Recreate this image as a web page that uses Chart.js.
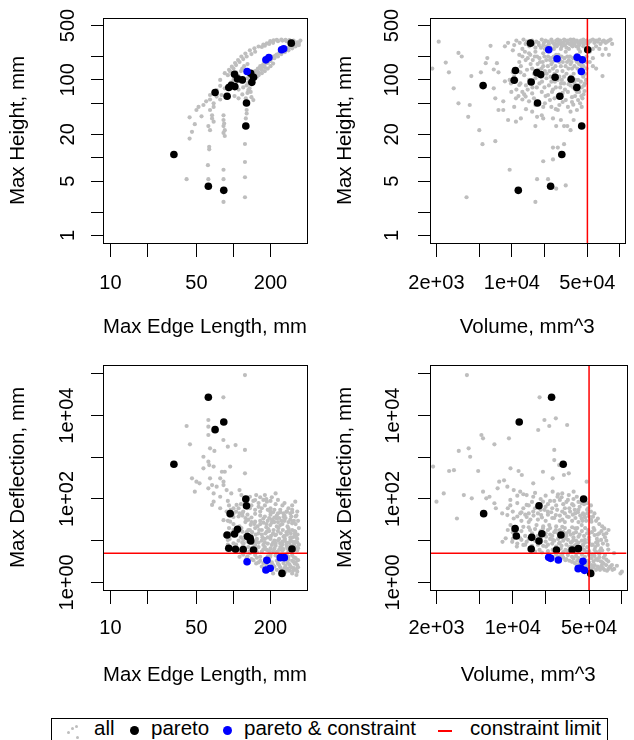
<!DOCTYPE html>
<html>
<head>
<meta charset="utf-8">
<title>Pareto designs</title>
<script src="https://cdn.jsdelivr.net/npm/chart.js@4.4.1/dist/chart.umd.min.js"></script>
<style>
  body { margin: 0; background: #fff; }
  #wrap { position: relative; width: 634px; height: 740px; overflow: hidden; font-family: "Liberation Sans", Arial, sans-serif; }
  canvas { position: absolute; }
  .leg { position: absolute; top: 718px; font-size: 20.5px; line-height: 20px; color: #000; white-space: nowrap; }
  .dot { position: absolute; border-radius: 50%; }
</style>
</head>
<body>
<div id="wrap">
  <canvas id="p1" width="317" height="340" style="left:0;top:0"></canvas>
  <canvas id="p2" width="317" height="340" style="left:317px;top:0"></canvas>
  <canvas id="p3" width="317" height="360" style="left:0;top:340px"></canvas>
  <canvas id="p4" width="317" height="360" style="left:317px;top:340px"></canvas>

  <div style="position:absolute;left:51px;top:718px;width:555px;height:40px;border:1px solid #000"></div>
  <div class="dot" style="left:67px;top:731px;width:3px;height:3px;background:#bebebe"></div>
  <div class="dot" style="left:71px;top:727px;width:3px;height:3px;background:#bebebe"></div>
  <div class="dot" style="left:75px;top:725px;width:3px;height:3px;background:#bebebe"></div>
  <div class="dot" style="left:76px;top:736px;width:3px;height:3px;background:#bebebe"></div>
  <span class="leg" style="left:94px">all</span>
  <div class="dot" style="left:130px;top:726px;width:9px;height:9px;background:#000"></div>
  <span class="leg" style="left:151px">pareto</span>
  <div class="dot" style="left:223px;top:726px;width:9px;height:9px;background:#0000ff"></div>
  <span class="leg" style="left:244px">pareto &amp; constraint</span>
  <div style="position:absolute;left:438px;top:730px;width:14px;height:2px;background:#ff0000"></div>
  <span class="leg" style="left:470px">constraint limit</span>
</div>

<script>
// axis ticks and their printed labels
const edgeTicks = [10, 20, 50, 100, 200];
const edgeTickLabels = ['10', '', '50', '', '200'];
const volumeTicks = [2e3, 5e3, 1e4, 2e4, 5e4, 1e5];
const volumeTickLabels = ['2e+03', '', '1e+04', '', '5e+04', ''];
const heightTicks = [1, 2, 5, 10, 20, 50, 100, 200, 500];
const heightTickLabels = ['1', '', '5', '', '20', '', '100', '', '500'];
const deflectionTicks = [1, 10, 100, 1e3, 1e4, 1e5];
const deflectionTickLabels = ['1e+00', '', '1e+02', '', '1e+04', ''];

// constraint limits
const volumeLimit = 5e4;
const deflectionLimit = 5;

// pareto designs (black) and pareto designs meeting the constraints (blue)
const edgeHeightPareto = [[32.8,11.0],[62.5,4.3],[83.4,3.8],[70.9,69],[88.8,61.5],[91.6,80],[96,85],[102.6,82],[102,118],[107.8,103],[118,100],[127.6,50.5],[126,25.5],[138,122],[145.6,108],[141,93],[295,297]];
const edgeHeightBoth = [[129,128],[183.5,181],[194,194],[246,244],[256,251]];
const volumeHeightPareto = [[14860,297],[50350,244],[10780,132],[10500,99],[5410,84.5],[15080,94],[17020,124],[18480,117],[25120,108],[35320,102],[39900,80],[27800,61.5],[17260,50.5],[44260,25.5],[28980,11.0],[22820,4.3],[11460,3.8]];
const volumeHeightBoth = [[21920,244],[26160,187],[40200,195],[44870,181],[43940,128]];
const edgeDeflPareto = [[62.5,27500],[83.4,7050],[70.9,4610],[32.8,680],[126,100],[127.6,69],[94,44.5],[88.8,13.7],[102,14.5],[107.8,18.7],[130,12.5],[136.8,11.4],[138,9.8],[91.6,6.55],[103.8,6.2],[120,6.1],[145.6,5.97],[299,6.3],[248,1.64]];
const edgeDeflBoth = [[129,3.13],[187,3.37],[183.5,1.98],[199,2.17],[240,3.91],[259,3.91]];
const volumeDeflPareto = [[22680,27500],[11460,7050],[28980,680],[44560,100],[17380,69],[5410,44.5],[10500,19.4],[10780,12.9],[14920,12.0],[18480,14.7],[17380,9.8],[27630,13.7],[14760,6.3],[25120,5.97],[35000,5.97],[39900,6.43],[51760,1.64]];
const volumeDeflBoth = [[21330,3.98],[22240,3.76],[26160,3.44],[43940,3.19],[39720,2.13],[41900,2.21],[45400,1.94]];

// all evaluated designs (grey)
const edgeHeightAll = [
  [78,100],[85,122],[92,135],[97,148],[103,165],[109,180],[116,200],[125,218],[136,240],[148,255],[160,269],[175,285],[187,295],[199,315],[212,322],[225,328],[245,330],[265,328],[285,325],[308,320],[330,305],
  [140,120],[150,130],[158,140],[165,150],[175,160],[185,172],[200,185],[212,200],[225,212],[240,225],[255,235],[270,250],[290,265],[310,280],[330,300],
  [120,95],[130,105],[135,112],[150,118],[160,125],[170,135],[180,145],
  [128,85],[132,92],[135,78],[140,88],[138,70],[142,100],[145,115],
  [57,47.6],[60,53],[64.5,56],[69,50],[73,61],[78,56],[80,64],[50,41],[55,34],[44,33],[46,21.5],[48.5,27],[64.5,41],[67,35],[67,32],[69,29],[62.5,25.5],[64.5,22.6],[83,30.5],[84,27.5],[85,22.6],[83,20.8],[44,17.6],[63.5,13.8],[63.5,12.8],[62,8],[41.6,5.3],[62.5,5.3],[83,7],[83,5.3],[83,2.7],[124,3.1],[124,5.6],[124,8.8],[124,15],[126,32],[128,41],[130,68],[132,74],
  [78,84],[85,78],[73,74],[64.5,64],[52,45],[69,45],[83,35],[83,25.5],[85,19],[126,58],[125,51],[128,37],[100,100],[110,112],[95,92],[115,130],[122,150],[130,160],[118,140],[105,125],
  [170,150],[180,160],[190,175],[205,190],[220,205],[235,220],[250,230],[265,245],[280,258],[300,275],[320,290],[340,300],[350,320],[340,280],[320,270],[300,255],[280,240],[262,228],[245,215],[230,200],[215,190],[200,175],[190,165],[178,155],[165,140],[155,132],[145,125],[155,110],[148,105],[160,115],[170,122],[180,130],[190,140],[200,150],[210,162],[170,265],[180,275],[195,290],[210,300],[230,315],[250,320],[270,315],[150,230],[140,215],[128,200],[120,185],[112,170],[105,155],[100,140],[94,128],[90,115],[110,75],[100,80],[118,65],[120,80],[140,60],[145,55],[110,58],[102,62]
];
const volumeHeightAll = [
  [2100,310],[1830,140],[2440,167],[2610,125],[3200,222],[3430,200],[4210,112],[2890,78],[3200,50],[4070,47.6],[3940,33.5],[4990,22.6],[5340,14.9],[7020,16.3],[3800,3.1],[9530,7.0],
  [6340,274],[5920,191],[5720,164],[5160,125],[6790,136],[7510,125],[7260,164],[6790,78],[7020,58],[8320,53],[7510,41],[8320,41],[9220,30.5],[10900,29],[12100,32],[15400,39],[16500,25.5],[18900,35],[17100,33.5],[19500,32],[24000,32],[25700,25.5],[26600,41],[28400,30.5],[30400,25.5],[34900,39],[37300,30.5],[40000,41],[44300,45],[42800,50],[34900,22.6],[32600,25.5],[24000,13.5],[26600,13.5],[30400,14.9],[19500,9.0],[24000,9.5],[17100,5.3],[21600,5.3],[25700,4.0],[31500,4.4],[16500,2.7],
  [8610,96],[9530,100],[10200,125],[11700,86],[12500,70],[13400,61],[15400,67],[18900,70],[21600,64],[24800,58],[9880,70],[10900,58],[12500,56],[14400,53],[16500,47.6],[20200,50],[23200,45],[27500,47.6],[31500,55],[36000,60],[40000,70],[44300,80],
  [9220,300],[8610,270],[10200,240],[11700,210],[12500,250],[13400,290],[14400,220],[15400,320],[16500,260],[17600,300],[18900,330],[19500,280],[20200,250],[21600,310],[23200,330],[24000,300],[24800,280],[25700,320],[26600,330],[27500,310],[28400,290],[30400,330],[31500,320],[32600,300],[34900,330],[36000,310],[37300,330],[40000,320],[42800,300],[45800,330],[49100,320],[52600,310],[56200,330],[60200,320],[64400,330],[69000,310],[73900,300],[79100,320],[84700,290],[60200,270],[56200,250],[52600,230],[64400,250],[73900,250],[69000,210],
  [13400,180],[14900,160],[15400,140],[17100,200],[18200,170],[19500,150],[20200,130],[21600,200],[22500,180],[23200,160],[24000,140],[24800,120],[25700,210],[26600,190],[27500,170],[28400,150],[29400,130],[30400,110],[31500,230],[32600,200],[33700,180],[34900,160],[36000,140],[37300,120],[38600,100],[40000,210],[41400,250],[42800,230],[44300,150],[45800,110],[47400,90],[49100,140],[12100,150],[11300,130],[10500,110],[13000,115],[14400,100],[16500,105],[18200,115],[20900,105],[23200,95],[26600,100],[30400,90],[34900,85],[38600,75],[33700,250],[35500,280],[28400,250],[22500,240],[19500,220],[16500,230],[11700,170],[52600,170],[56200,150],[49100,200],[45800,270],[44300,190],[40000,170],[42800,130],[69000,112],[60200,140],[79100,210],[56200,190],
  [10500,280],[11000,320],[11800,300],[12800,330],[13800,310],[14500,270],[15800,290],[16800,310],[17800,280],[18600,260],[19800,300],[20500,320],[21000,270],[22000,290],[22800,260],[23600,310],[24500,250],[25200,290],[26000,270],[27000,290],[28000,320],[29000,270],[29800,300],[31000,280],[32000,260],[33000,320],[34200,290],[35200,300],[36500,270],[37800,290],[39000,310],[39500,270],[41000,300],[42000,280],[43500,320],[44800,300],[46500,290],[48000,310],[50500,290],[53500,320],[58000,300],[62000,310],[66000,290],[71000,320],[76000,310],[82000,330],
  [12500,200],[13200,230],[14000,190],[14800,210],[15600,180],[16300,200],[17300,160],[18000,190],[18800,140],[19300,170],[20000,200],[20800,180],[21500,150],[22300,130],[23000,190],[23800,170],[24400,200],[25300,150],[26200,130],[27000,210],[27800,180],[28800,200],[29600,170],[30600,190],[31400,150],[32400,170],[33400,140],[34500,200],[35600,170],[36800,190],[37900,150],[39200,180],[40500,140],[41800,160],[43000,180],[44500,120],[46000,150],[47500,120],[48800,170],[16000,120],[17500,135],[19000,110],[21000,120],[22800,110],[25000,95],[27500,110],[29000,100],[32000,120],[35000,110],[38000,90],[41000,100],[43500,95],[46500,85],[13800,135],[12000,125],[11000,100],[9800,90],[13500,85],[15500,80],[18000,90],[20000,80],[24000,75],[28000,80],[33000,70],[37000,80],[42000,70],[46000,65],
  [11000,75],[12000,90],[13000,65],[14000,75],[15000,95],[16000,58],[17000,80],[19000,95],[20500,62],[22000,85],[23500,70],[25500,80],[26500,62],[28500,90],[29500,68],[31000,75],[33500,88],[36000,52],[38500,62],[41500,85],[44000,62],[47000,72],[48500,100],[19500,45],[22500,55],[25500,42],[29500,52],[33000,45],[37000,48],[41000,55],[45000,58],[10500,45],[13500,42],[11500,62]
];
const edgeDeflAll = [
  [124,94000],[82.8,27500],[62.5,7850],[62.5,5430],[62.5,3430],[41.6,5640],[44.3,2050],[82.8,2600],[90,1800],[104,1970],[124,1500],[70,1420],[64.5,1640],[57,1030],[62.5,785],[63.5,650],[57,545],[69,600],[46,313],[50,260],[53,237],[48.5,150],[80.5,450],[85,450],[94,600],[124,412],[78,313],[83,260],[64.5,313],[67,216],[73,197],[83,216],[88,164],[62.5,180],[69,136],[78,113],[96,136],[112,164],[116,124],[136,113],[153,124],[180,124],[220,136],[150,94],[187,86],[67,72],[69,86],[78,60],[88,50],[106,72],[124,86],[318,86],[272,50],[199,50],[165,50],[136,60],[118,45],[225,34],[255,37],[305,28.5],[100,37],[94,28.5],[83,31],[128,31],[150,28.5],[175,34],[199,23.7],[240,23.7],[280,19.7],[318,16.4],[106,19.7],[118,16.4],[136,18],[160,15],[187,16.4],[218,13.6],[255,12.4],[290,10.4],[318,9.4],[85,13.6],[90,10.4],[100,8.6],[121,8.6],[153,9.4],[175,7.9],[205,7.9],[240,8.6],[272,7.2],[318,6.0],[153,6.5],[187,6.0],[225,5.4],
  [100,45],[110,38],[120,50],[130,42],[140,36],[150,44],[165,40],[180,38],[200,42],[215,36],[100,25],[112,22],[125,28],[138,24],[150,20],[165,25],[185,21],[205,27],[225,22],[250,25],[275,22],[300,26],[102,14],[115,12],[128,16],[140,13],[155,11],[170,14],[190,12],[210,15],[235,11],[260,13],[290,12],[315,14],[105,8],[118,9],[132,7],[145,8.5],[160,7],[180,9],[200,6.5],[220,7.5],[245,6.8],[270,8],[300,6.3],[110,6.2],[125,5.6],[90,90],[92,70],[95,55],[93,40],[90,30],[92,20],[95,15],[93,11],[90,8],
  [170,60],[190,55],[210,48],[230,45],[260,40],[290,45],[320,38],[240,55],[280,60],[300,55],[330,50],[140,70],[160,80],[175,95],[200,90],[220,75],[250,70],[110,60],[115,75],[190,30],[210,30],[230,28],[260,30],[290,32],[320,25],[340,20],[170,18],[195,17],[230,17],[270,16],[300,18],[120,10.5],[150,10],[180,11],[215,10],[250,9.5],[285,9],[330,11],[340,8],[210,5.6],[250,5.8],[280,5.5],[330,5.8],[170,5.5],[105,5.5],[140,6.5],
  [112,4.1],[128,3.8],[145,3.4],[153,2.85],[170,2.4],[187,3.1],[210,2.6],[225,2.0],[265,1.8],[290,2.4],[308,3.1],[330,2.6],[330,1.8],[300,1.64],[280,4.1],[199,4.1],[165,4.1],[136,5.0],[210,1.64],[255,1.5],[128,2.85],[240,2.3],[275,3.0],[320,3.8],[300,4.5],[250,4.3],[180,3.6],[160,3.0],[200,2.0],[230,2.8],[260,2.2],[285,1.9],[310,2.2],[325,1.5],[150,4.5],[120,4.6],
  [100,60],[105,50],[112,45],[118,40],[125,35],[132,32],[140,28],[148,25],[157,22],[165,30],[175,27],[185,25],[195,35],[205,32],[215,28],[225,40],[235,35],[245,30],[255,45],[265,35],[280,28],[295,38],[310,30],[325,40],[335,30],
  [100,18],[108,16],[116,20],[124,13],[132,18],[142,16],[152,14],[162,18],[172,12],[182,15],[192,19],[202,13],[212,18],[222,14],[232,20],[242,15],[252,18],[262,11],[272,14],[282,17],[292,15],[302,12],[312,17],[322,12],[332,14],
  [110,10],[120,7.5],[130,9.5],[140,10.5],[150,8],[160,9],[170,10],[180,7],[190,8.5],[200,11],[210,9],[220,8.5],[230,10],[240,7],[250,8],[260,10],[270,9],[280,7],[290,7.5],[300,9.5],[310,8],[320,7],[330,9],
  [115,5.2],[135,5.5],[155,5.3],[175,6.2],[195,5.6],[215,6.5],[235,6],[255,6.3],[275,6.5],[295,5.8],[315,6.3],[335,6.6],
  [130,4.2],[140,3.6],[155,3.9],[165,3.3],[175,2.9],[185,2.6],[195,3.5],[205,3.0],[215,2.4],[225,3.3],[235,2.6],[245,2.0],[255,2.9],[265,2.5],[275,2.1],[285,2.7],[295,2.3],[305,1.9],[315,2.8],[325,2.0],[335,2.3],[240,4.0],[260,3.7],[280,3.5],[300,3.3],[320,3.0],[335,3.4],[220,4.4],[200,4.6],[190,4.2],[270,4.6],[310,4.0],
  [150,55],[160,65],[180,70],[200,60],[215,55],[240,48],[270,50],[300,48],[130,60],[145,90],[165,110],[185,100],[205,110],[230,95],[260,80],[300,70]
];
const volumeDeflAll = [
  [3800,94000],[17600,27500],[19500,7850],[24800,8610],[21600,5640],[31500,5960],[17100,4520],[5160,3430],[5340,2850],[6790,2050],[9220,2850],[3940,1640],[3200,1420],[4070,1030],[24000,1500],[24000,860],[26600,650],[2610,470],[2890,490],[4820,470],[1860,600],[9530,545],[11300,470],[12100,376],[15400,237],[18900,450],[23200,313],[29400,376],[32600,412],[47500,260],[3560,124],[4210,104],[2330,136],[2000,86],[3080,34],[5340,150],[5720,104],[6790,79],[7510,260],[8320,280],[8920,197],[7260,180],[6120,113],[10200,164],[11700,150],[13400,124],[15400,113],[13400,72],[18900,86],[23200,150],[25700,113],[28400,136],[32600,124],[36100,150],[38600,113],[42800,79],[49100,60],[54300,37.6],[60200,34],[69000,19.7],[75400,18],[84700,5.0],[97000,1.64],[60200,7.9],[71800,2.6],[78000,2.3],
  [8920,41],[10200,34],[11700,45],[13400,37],[15400,50],[18200,41],[20900,50],[24800,41],[28400,50],[32600,37],[37300,45],[42800,34],[9530,23.7],[10900,19.7],[12500,21.5],[14400,18],[16500,23.7],[18900,19.7],[21600,23.7],[24800,18],[28400,21.5],[32600,16.4],[37300,19.7],[42800,23.7],[49100,18],[52600,28.5],[8610,11.4],[9880,9.4],[11700,11.4],[13400,9.4],[15400,11.4],[17600,9.4],[20200,12.4],[23200,10.4],[26600,8.6],[30400,11.4],[34900,9.4],[40000,12.4],[45800,10.4],[52600,7.9],[14400,6.5],[17600,6.0],[20200,7.2],[23200,6.0],[27500,6.5],[30400,6.0],[34900,7.2],[42800,6.5],[47400,5.4],[56200,6.0],[64400,6.5],[12500,7.9],[10900,7.2],[8050,9.4],[10200,15],[26600,13.6],[36100,15],[56200,13.6],[64400,10.4],[73900,7.9],
  [23200,4.1],[26600,3.8],[30400,3.4],[34900,3.1],[38600,2.6],[42800,2.2],[45800,2.85],[49100,2.4],[52600,2.0],[56200,2.6],[61800,2.2],[69000,2.0],[75400,2.1],[81000,2.6],[34900,4.1],[40000,3.8],[45800,4.1],[52600,3.8],[60200,3.4],[28400,4.5],
  [12000,30],[14000,28],[17000,32],[20000,30],[23000,35],[27000,30],[30000,28],[35000,30],[40000,28],[45000,40],[16000,60],[20000,65],[25000,70],[30000,60],[35000,75],[40000,55],[22000,90],[27000,95],[31000,85],[36000,100],[44000,45],[47000,30],[50000,15],[55000,20],[60000,14],[65000,17],[70000,12],[19000,15],[22000,14],[31000,15],[38000,8],[44000,8],[50000,9],[58000,9],[66000,5.8],[70000,4.5],[62000,4.8],[54000,4.6],[48000,3.3],[44000,2.9],[50000,3.0],[66000,3.0],[72000,3.5],[85000,2.1],[90000,2.5],[100000,1.8],
  [9000,60],[10000,50],[11000,38],[12000,48],[13000,42],[14500,32],[15500,40],[17000,45],[18500,36],[19500,55],[21000,42],[22500,48],[24000,35],[25500,55],[27000,40],[28500,32],[30000,45],[31500,38],[33500,50],[35500,42],[37500,35],[39500,48],[41500,40],[43500,30],[46000,36],[48000,45],[50000,38],[52000,32],
  [9000,18],[10000,16],[11000,14],[12000,17],[13000,13],[14000,21],[15000,15],[16000,19],[17000,13],[18000,17],[19000,22],[20000,15],[21000,18],[22000,20],[23000,13],[24000,16],[25000,22],[26000,15],[27000,18],[28000,13],[29000,16],[30000,20],[31000,13],[33000,17],[34000,14],[35000,21],[36000,12],[38000,16],[39000,20],[41000,14],[43000,17],[45000,13],[46000,20],[48000,15],[50000,12],[53000,16],[56000,18],[59000,11],[62000,15],[68000,14],[72000,10],
  [10000,11],[11000,8.5],[12000,10.5],[13000,8],[14000,11],[15000,7.5],[16000,10],[17000,8],[18000,11],[19000,7.5],[20000,9.5],[21000,8],[22000,11],[23000,8.5],[24000,10],[25000,7.2],[26000,11],[27000,9],[28000,7.5],[29000,10],[31000,8],[32000,10.5],[33000,7],[34000,9],[36000,10.5],[37000,7.5],[38000,10],[40000,9],[41000,7],[43000,10],[44000,7.5],[46000,9],[48000,7],[50000,10.5],[54000,8],[57000,7],[60000,9.5],[67000,8.5],
  [16000,5.5],[18500,5.2],[21000,5.6],[24000,5.4],[26000,5.8],[29000,5.3],[32000,5.6],[36000,5.4],[39000,5.2],[45000,6.0],[50000,5.6],[58000,5.4],[63000,5.7],[75000,6.1],
  [25000,4.6],[27000,4.2],[29000,3.9],[31000,3.6],[33000,3.3],[36000,3.7],[37000,2.9],[39000,3.3],[41000,2.8],[43000,3.4],[44000,2.5],[47000,2.7],[48000,2.3],[51000,2.2],[53000,2.6],[55000,2.3],[58000,2.0],[60000,2.4],[63000,2.0],[65000,2.5],[67000,2.2],[73000,1.9],[78000,2.4],[82000,2.0],[55000,3.2],[58000,3.6],[64000,3.2],[68000,2.8],[32000,4.5],[38000,4.3],[43000,4.6],[50000,4.5],[56000,4.3],[62000,4.0],[68000,3.9],[75000,3.2],
  [15000,85],[18000,100],[21000,75],[24000,90],[28000,110],[32000,95],[36000,70],[40000,85],[45000,75],[14000,70],[12500,60],[11000,80],[9500,70],[48000,55],[52000,50],
  [7000,60],[8000,45],[9500,95],[11000,120],[12500,130],[14000,45],[16000,140],[18000,55],[20000,120],[23000,60],[26000,130],[29000,75],[33000,60],[37000,55],[41000,65],[45000,100],[48000,80],[52000,70],[56000,45],[62000,25],[66000,22],[72000,15],[58000,30]
];

// axis ranges
const edgeRange = [8.7, 396];
const volumeRange = [1744, 110300];
const heightRange = [0.8, 625];
const deflRange = [0.655, 164000];

Chart.defaults.font.family = '"Liberation Sans", Arial, sans-serif';
Chart.defaults.color = '#000';

// plot box + vertical y tick labels (R style)
const frame = {
  id: 'frame',
  afterDraw(chart, args, o) {
    const { ctx, chartArea: a } = chart;
    const ys = chart.scales.y;
    ctx.save();
    ctx.strokeStyle = '#000';
    ctx.lineWidth = 1;
    ctx.strokeRect(Math.round(a.left) + 0.5, Math.round(a.top) + 0.5, Math.round(a.right - a.left), Math.round(a.bottom - a.top));
    ctx.font = '20px "Liberation Sans", Arial, sans-serif';
    ctx.fillStyle = '#000';
    ctx.textAlign = 'center';
    ctx.textBaseline = 'middle';
    o.ticks.forEach((v, i) => {
      if (!o.labels[i]) return;
      ctx.save();
      ctx.translate(o.labelX, ys.getPixelForValue(v));
      ctx.rotate(-Math.PI / 2);
      ctx.fillText(o.labels[i], 0, 0);
      ctx.restore();
    });
    ctx.restore();
  }
};

const makePanel = (id, p) => {
  const pts = arr => arr.map(d => ({ x: d[0], y: d[1] }));
  const dots = (data, color, r, order) => ({
    data: pts(data), backgroundColor: color, borderWidth: 0, pointRadius: r, pointHoverRadius: r, order
  });
  const limitSets = p.limits.map(l => ({
    data: pts(l), showLine: true, borderColor: '#ff0000', borderWidth: 1.5, pointRadius: 0, order: 0
  }));

  new Chart(document.getElementById(id), {
    type: 'scatter',
    data: {
      datasets: [
        dots(p.all, '#bebebe', 2.1, 3),
        dots(p.pareto, '#000000', 3.8, 2),
        dots(p.both, '#0000ff', 3.8, 1),
        ...limitSets
      ]
    },
    options: {
      responsive: false,
      animation: false,
      devicePixelRatio: 1,
      events: [],
      layout: { padding: p.pad },
      plugins: {
        legend: { display: false },
        tooltip: { enabled: false },
        frame: { ticks: p.yTicks, labels: p.yLabels, labelX: p.yLabelX }
      },
      scales: {
        x: {
          type: 'logarithmic',
          min: p.xRange[0], max: p.xRange[1], bounds: 'data',
          afterBuildTicks: s => { s.ticks = p.xTicks.map(v => ({ value: v })); },
          afterFit: s => { s.height = p.xHeight; },
          ticks: {
            autoSkip: false, minRotation: 0, maxRotation: 0, padding: p.xTickPad,
            font: { size: 20 }, color: '#000',
            callback: (v, i) => p.xLabels[i]
          },
          grid: { drawOnChartArea: false, drawTicks: true, tickLength: 14, color: '#000', lineWidth: 1 },
          border: { display: false },
          title: { display: true, text: p.xTitle, font: { size: 20.5 }, color: '#000', padding: { top: 0, bottom: p.xTitlePad } }
        },
        y: {
          type: 'logarithmic',
          min: p.yRange[0], max: p.yRange[1], bounds: 'data',
          afterBuildTicks: s => { s.ticks = p.yTicks.map(v => ({ value: v })); },
          afterFit: s => { s.width = p.yWidth; },
          ticks: { display: false },
          grid: { drawOnChartArea: false, drawTicks: true, tickLength: 12, color: '#000', lineWidth: 1 },
          border: { display: false },
          title: { display: true, text: p.yTitle, font: { size: 20.5 }, color: '#000', padding: { top: p.yTitlePad, bottom: 0 } }
        }
      }
    },
    plugins: [frame]
  });
};

makePanel('p1', {
  all: edgeHeightAll, pareto: edgeHeightPareto, both: edgeHeightBoth, limits: [],
  xRange: edgeRange, yRange: heightRange,
  xTicks: edgeTicks, xLabels: edgeTickLabels, yTicks: heightTicks, yLabels: heightTickLabels,
  xTitle: 'Max Edge Length, mm', yTitle: 'Max Height, mm',
  pad: { top: 18, right: 10, bottom: 0, left: 0 },
  yWidth: 103, xHeight: 97, xTickPad: 14, xTitlePad: 0, yTitlePad: 6, yLabelX: 68
});

makePanel('p2', {
  all: volumeHeightAll, pareto: volumeHeightPareto, both: volumeHeightBoth,
  limits: [[[volumeLimit, heightRange[0]], [volumeLimit, heightRange[1]]]],
  xRange: volumeRange, yRange: heightRange,
  xTicks: volumeTicks, xLabels: volumeTickLabels, yTicks: heightTicks, yLabels: heightTickLabels,
  xTitle: 'Volume, mm^3', yTitle: 'Max Height, mm',
  pad: { top: 18, right: 1, bottom: 0, left: 0 },
  yWidth: 113, xHeight: 97, xTickPad: 14, xTitlePad: 0, yTitlePad: 16, yLabelX: 75
});

makePanel('p3', {
  all: edgeDeflAll, pareto: edgeDeflPareto, both: edgeDeflBoth,
  limits: [[[edgeRange[0], deflectionLimit], [edgeRange[1], deflectionLimit]]],
  xRange: edgeRange, yRange: deflRange,
  xTicks: edgeTicks, xLabels: edgeTickLabels, yTicks: deflectionTicks, yLabels: deflectionTickLabels,
  xTitle: 'Max Edge Length, mm', yTitle: 'Max Deflection, mm',
  pad: { top: 25, right: 10, bottom: 0, left: 0 },
  yWidth: 103, xHeight: 110, xTickPad: 12, xTitlePad: 12, yTitlePad: 6, yLabelX: 67
});

makePanel('p4', {
  all: volumeDeflAll, pareto: volumeDeflPareto, both: volumeDeflBoth,
  limits: [
    [[volumeLimit, deflRange[0]], [volumeLimit, deflRange[1]]],
    [[volumeRange[0], deflectionLimit], [volumeRange[1], deflectionLimit]]
  ],
  xRange: volumeRange, yRange: deflRange,
  xTicks: volumeTicks, xLabels: volumeTickLabels, yTicks: deflectionTicks, yLabels: deflectionTickLabels,
  xTitle: 'Volume, mm^3', yTitle: 'Max Deflection, mm',
  pad: { top: 25, right: 1, bottom: 0, left: 0 },
  yWidth: 113, xHeight: 110, xTickPad: 12, xTitlePad: 12, yTitlePad: 16, yLabelX: 76
});
</script>
</body>
</html>
